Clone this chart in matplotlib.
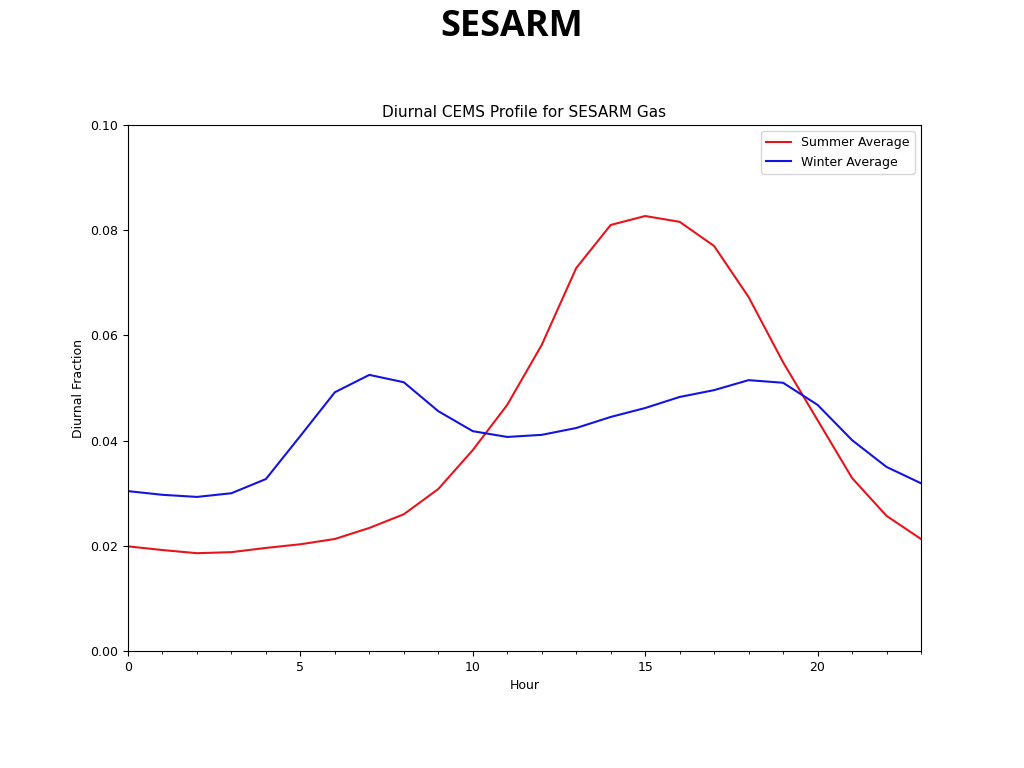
import matplotlib
matplotlib.use("Agg")
import matplotlib.pyplot as plt
from matplotlib.ticker import MultipleLocator

hours = list(range(24))
summer = [0.0199, 0.0192, 0.0186, 0.0188, 0.0196, 0.0203, 0.0213, 0.0234, 0.0260, 0.0308,
          0.0382, 0.0468, 0.0582, 0.0728, 0.0810, 0.0827, 0.0816, 0.0770, 0.0673, 0.0549,
          0.0439, 0.0329, 0.0257, 0.0213]
winter = [0.0304, 0.0297, 0.0293, 0.0300, 0.0327, 0.0409, 0.0492, 0.0525, 0.0511, 0.0456,
          0.0418, 0.0407, 0.0411, 0.0424, 0.0445, 0.0462, 0.0483, 0.0496, 0.0515, 0.0510,
          0.0468, 0.0401, 0.0350, 0.0319]

fig = plt.figure(figsize=(10.24, 7.68), dpi=100)
fig.text(0.5, 0.965, "SESARM", ha="center", va="center", fontsize=26,
         fontweight="bold", family=["Open Sans", "DejaVu Sans"])
ax = fig.add_axes([0.125, 0.1523, 0.7744, 0.6849])
ax.plot(hours, summer, color="#e8141c", lw=1.5, label="Summer Average")
ax.plot(hours, winter, color="#1414e0", lw=1.5, label="Winter Average")
ax.set_xlim(0, 23)
ax.set_ylim(0, 0.10)
ax.set_yticks([0.00, 0.02, 0.04, 0.06, 0.08, 0.10])
ax.yaxis.set_major_formatter(plt.FormatStrFormatter("%.2f"))
ax.xaxis.set_major_locator(MultipleLocator(5))
ax.xaxis.set_minor_locator(MultipleLocator(1))
ax.tick_params(labelsize=9)
ax.set_title("Diurnal CEMS Profile for SESARM Gas", fontsize=11)
ax.set_xlabel("Hour", fontsize=9)
ax.set_ylabel("Diurnal Fraction", fontsize=9)
ax.legend(loc="upper right", fontsize=9)
fig.savefig("out.png", dpi=100)
